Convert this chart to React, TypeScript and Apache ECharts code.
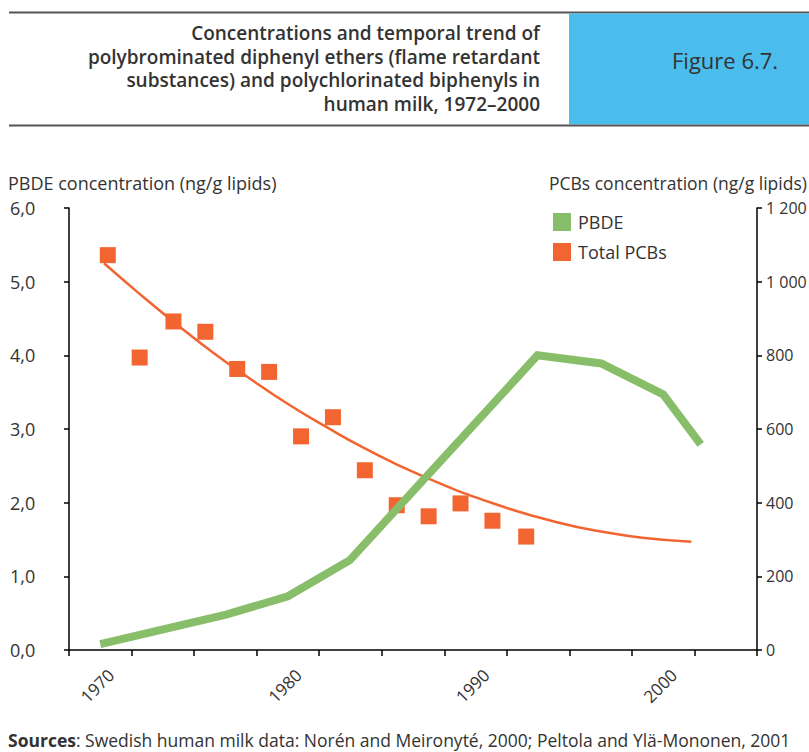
import React, { useEffect, useRef } from "react";
import * as echarts from "echarts";

// X axis cells (ticks between cells), and the year labels shown below them
const xCategories = ["1970", "", "", "1980", "", "", "1990", "", "", "2000", ""];
const yearLabels = [1970, 1980, 1990, 2000];

// PBDE concentration (ng/g lipids), left axis
const pbdeYears = [1970, 1976.7, 1980, 1983.3, 1993.3, 1996.7, 2000, 2002];
const pbdeValues = [0.08, 0.48, 0.73, 1.22, 4.0, 3.89, 3.47, 2.79];

// Total PCBs (ng/g lipids), right axis
const pcbYears = [1970.4, 1972.1, 1973.9, 1975.6, 1977.3, 1979.0, 1980.7, 1982.4, 1984.1, 1985.8, 1987.5, 1989.2, 1990.9, 1992.7];
const pcbValues = [1072, 794, 892, 864, 763, 755, 580, 632, 488, 393, 363, 398, 351, 308];

// PCB trend curve
const trendYears = [1970.2, 1972, 1974, 1976, 1978, 1980, 1982, 1984, 1987, 1991, 1994.5, 1997, 1999, 2001.5];
const trendValues = [1050, 971, 887, 808, 736, 668, 607, 550, 476, 397, 345, 319, 304, 294];

// Tick labels
const leftTicks = [0, 1, 2, 3, 4, 5, 6];
const rightTicks = [0, 200, 400, 600, 800, 1000, 1200];

const titleLines = [
  "Concentrations and temporal trend of",
  "polybrominated diphenyl ethers (flame retardant",
  "substances) and polychlorinated biphenyls in",
  "human milk, 1972\u20132000",
];
const titleLineY = [33, 56.5, 80, 103.5];

const GREEN = "#88bd69";
const ORANGE = "#f26430";
const BLUE = "#4bbdec";
const TEXT = "#333333";
const FONT = "'Open Sans', 'Noto Sans', sans-serif";
const LABEL_SHIFT = 0.25; // labels sit a little right of the cell centres

export default function App() {
  const ref = useRef<HTMLDivElement>(null);

  useEffect(() => {
    document.body.style.margin = "0";
    const chart = echarts.init(ref.current!, null, { renderer: "svg" });
    const option: any = {
      animation: false,
      backgroundColor: "#ffffff",
      textStyle: { fontFamily: FONT, color: TEXT },
      grid: { left: 69, right: 52, top: 208, bottom: 102, containLabel: false, outerBoundsMode: "none" },
      legend: {
        orient: "vertical",
        left: 553,
        top: 213,
        padding: 0,
        itemWidth: 18,
        itemHeight: 18,
        itemGap: 12,
        icon: "rect",
        data: ["PBDE", "Total PCBs"],
        textStyle: { fontSize: 18, color: TEXT, fontFamily: FONT, padding: [0, 0, 0, 2] },
      },
      xAxis: [
        {
          type: "category",
          data: xCategories,
          boundaryGap: true,
          axisLine: { lineStyle: { color: "#000", width: 1.5 } },
          axisTick: { show: true, length: 6, lineStyle: { color: "#000", width: 1.5 }, interval: 0 },
          axisLabel: { show: false },
          splitLine: { show: false },
        },
        {
          type: "value",
          min: 1968 + 1 / 3,
          max: 2005,
          position: "bottom",
          axisLine: { show: false },
          axisTick: { show: false },
          splitLine: { show: false },
          axisLabel: {
            show: true,
            customValues: yearLabels.map((y) => y + LABEL_SHIFT),
            formatter: (v: number) => String(Math.round(v - LABEL_SHIFT)),
            rotate: 45,
            align: "right",
            verticalAlign: "top",
            margin: 16,
            fontSize: 17,
            color: TEXT,
            fontFamily: FONT,
            hideOverlap: false,
          },
        },
      ],
      yAxis: [
        {
          type: "value",
          min: 0,
          max: 6,
          interval: 1,
          position: "left",
          axisLine: { show: true, lineStyle: { color: "#000", width: 1.5 } },
          axisTick: { show: true, length: 5, lineStyle: { color: "#000", width: 1.5 } },
          axisLabel: {
            fontSize: 18,
            color: TEXT,
            fontFamily: FONT,
            align: "left",
            margin: 59,
            formatter: (v: number) => (leftTicks.includes(v) ? v.toFixed(1).replace(".", ",") : ""),
          },
          splitLine: { show: false },
        },
        {
          type: "value",
          min: 0,
          max: 1200,
          interval: 200,
          position: "right",
          axisLine: { show: true, lineStyle: { color: "#000", width: 1.5 } },
          axisTick: { show: true, length: 5, lineStyle: { color: "#000", width: 1.5 } },
          axisLabel: {
            fontSize: 16,
            color: TEXT,
            fontFamily: FONT,
            margin: 9,
            formatter: (v: number) =>
              rightTicks.includes(v) ? (v >= 1000 ? Math.floor(v / 1000) + " " + String(v % 1000).padStart(3, "0") : String(v)) : "",
          },
          splitLine: { show: false },
        },
      ],
      series: [
        {
          name: "PCBs trend",
          type: "line",
          xAxisIndex: 1,
          yAxisIndex: 1,
          smooth: true,
          symbol: "none",
          data: trendYears.map((y, i) => [y, trendValues[i]]),
          lineStyle: { color: ORANGE, width: 2.5 },
          itemStyle: { color: ORANGE },
          silent: true,
        },
        {
          name: "PBDE",
          type: "line",
          xAxisIndex: 1,
          yAxisIndex: 0,
          symbol: "none",
          data: pbdeYears.map((y, i) => [y, pbdeValues[i]]),
          lineStyle: { color: GREEN, width: 8, join: "miter", cap: "butt" },
          itemStyle: { color: GREEN },
        },
        {
          name: "Total PCBs",
          type: "scatter",
          xAxisIndex: 1,
          yAxisIndex: 1,
          symbol: "rect",
          symbolSize: 16,
          data: pcbYears.map((y, i) => [y, pcbValues[i]]),
          itemStyle: { color: ORANGE, opacity: 1 },
        },
      ],
      graphic: [
        { type: "line", shape: { x1: 9, y1: 12.5, x2: 809, y2: 12.5 }, style: { stroke: "#555", lineWidth: 2 } },
        { type: "rect", shape: { x: 569, y: 13.5, width: 240, height: 111 }, style: { fill: BLUE } },
        { type: "line", shape: { x1: 9, y1: 125.5, x2: 809, y2: 125.5 }, style: { stroke: "#555", lineWidth: 2 } },
        ...titleLines.map((t, i) => ({
          type: "text",
          x: 540,
          y: titleLineY[i],
          style: {
            text: t,
            align: "right",
            verticalAlign: "middle",
            font: `600 19px ${FONT}`,
            fill: TEXT,
          },
        })),
        {
          type: "text",
          x: 672,
          y: 60,
          style: { text: "Figure 6.7.", align: "left", verticalAlign: "middle", font: `22px ${FONT}`, fill: TEXT },
        },
        {
          type: "text",
          x: 8,
          y: 183,
          style: { text: "PBDE concentration (ng/g lipids)", align: "left", verticalAlign: "middle", font: `18px ${FONT}`, fill: TEXT },
        },
        {
          type: "text",
          x: 549,
          y: 183,
          style: { text: "PCBs concentration (ng/g lipids)", align: "left", verticalAlign: "middle", font: `17.5px ${FONT}`, fill: TEXT },
        },
        {
          type: "text",
          x: 8,
          y: 740,
          style: {
            text: "{b|Sources}: Swedish human milk data: Norén and Meironyté, 2000; Peltola and Ylä-Mononen, 2001",
            align: "left",
            verticalAlign: "middle",
            font: `17.5px ${FONT}`,
            lineHeight: 18,
            fill: TEXT,
            rich: { b: { fontWeight: "bold", fontSize: 17.5, fontFamily: FONT, fill: TEXT, lineHeight: 18 } },
          },
        },
      ],
    };
    chart.setOption(option);
    return () => chart.dispose();
  }, []);

  return <div ref={ref} style={{ width: 809, height: 752 }} />;
}
